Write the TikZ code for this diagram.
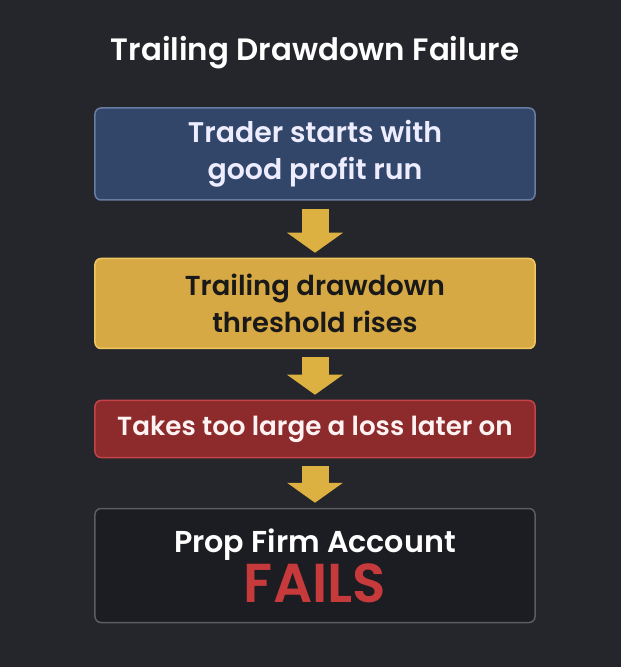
\documentclass[tikz,border=0pt]{standalone}
\usepackage{fontspec}
\setmainfont{Poppins}[BoldFont={Poppins SemiBold}]
\usepackage{tikz}
\usetikzlibrary{positioning}
\usetikzlibrary{arrows.meta}
\definecolor{bgdark}{HTML}{25262B}
\definecolor{bluefill}{HTML}{32466A}
\definecolor{blueline}{HTML}{687DA4}
\definecolor{goldfill}{HTML}{D6A944}
\definecolor{goldline}{HTML}{EFC75E}
\definecolor{redfill}{HTML}{8C2A2C}
\definecolor{redline}{HTML}{C24449}
\definecolor{failfill}{HTML}{1C1D22}
\definecolor{failline}{HTML}{5C5D62}
\definecolor{arrowgold}{HTML}{DDB042}
\definecolor{failred}{HTML}{C73A3B}
\tikzstyle{stage} = [rectangle, rounded corners=6bp, line width=1.5bp, minimum width=440bp, align=center, font=\bfseries\fontsize{27.5}{37}\selectfont, inner sep=0pt]
\tikzstyle{bluebox} = [stage, fill=bluefill, draw=blueline, text=white!93!blue, minimum height=92bp, font=\bfseries\fontsize{28.5}{37}\selectfont]
\tikzstyle{goldbox} = [stage, fill=goldfill, draw=goldline, text=black!90, minimum height=90bp]
\tikzstyle{redbox} = [stage, fill=redfill, draw=redline, text=white!95!red, minimum height=57bp, font=\bfseries\fontsize{26.3}{30}\selectfont]
\tikzstyle{failbox} = [stage, fill=failfill, draw=failline, text=white!93, minimum height=114bp, font=\bfseries\fontsize{30.3}{50}\selectfont]
\tikzstyle{arrow} = [arrowgold, line width=27bp, -{Triangle[width=55bp,length=20bp]}, shorten <=8bp, shorten >=5bp]

\begin{document}
\begin{tikzpicture}[x=1bp, y=1bp, node distance=57bp]

  \fill[bgdark] (0,0) rectangle (621,667);
  \useasboundingbox (0,0) rectangle (621,667);

  \node[font=\bfseries\fontsize{31}{34}\selectfont, text=white!92] (title) at (315,614) {Trailing Drawdown Failure};

  \node[bluebox] (start) at (315,513) {Trader starts with\\good profit run};
  \node[goldbox, below=57bp of start] (rise) {Trailing drawdown\\threshold rises};
  \node[redbox, below=50.5bp of rise] (loss) {Takes too large a loss later on};
  \node[failbox, below=49.5bp of loss] (fail) {Prop Firm Account\\{\fontsize{55}{55}\selectfont\color{failred}FAILS}};

  \draw[arrow] (start) -- (rise);
  \draw[arrow] (rise) -- (loss);
  \draw[arrow] (loss) -- (fail);

\end{tikzpicture}
\end{document}
